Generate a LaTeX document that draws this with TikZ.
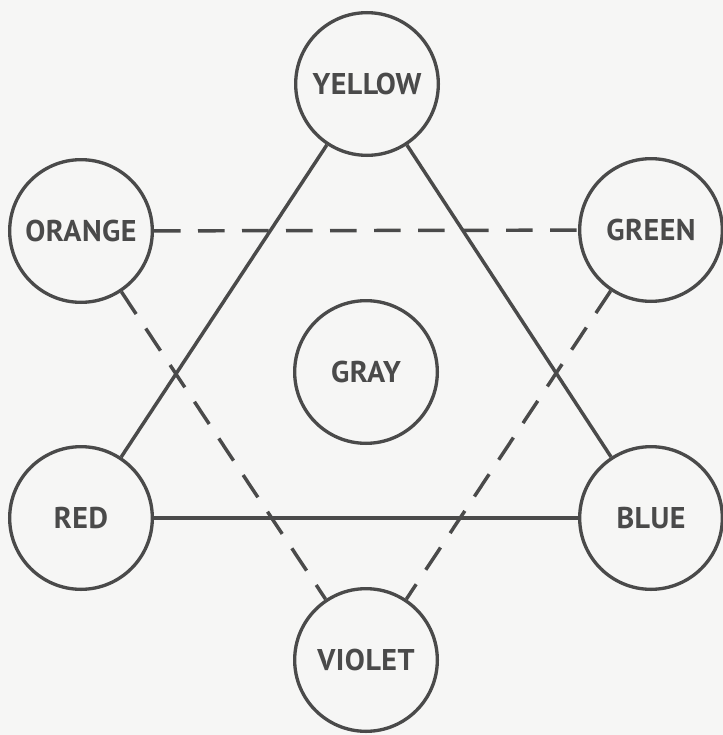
\documentclass[tikz,border=0pt]{standalone}
\usepackage{fontspec}
\newfontfamily\colorfont[LetterSpace=1.5]{PT Sans}
\usetikzlibrary{positioning}

\begin{document}
\begin{tikzpicture}[
    x=0.75pt, y=-0.75pt, % 1 Einheit = 1 Bildpunkt der Vorlage
    % --- Farben ---
    inkColor/.style={draw={rgb,255:red,74;green,74;blue,74}},
    paper/.style={fill={rgb,255:red,246;green,246;blue,245}},
    % --- Knoten ---
    hue/.style={shape=circle, inkColor, line width=2.5pt, minimum size=107pt, inner sep=0pt,
        text={rgb,255:red,74;green,74;blue,74}, font=\colorfont\bfseries\fontsize{22.5}{26}\selectfont},
    % --- Linien ---
    primary/.style={inkColor, line width=2.6pt},
    secondary/.style={inkColor, line width=2.6pt, dash pattern=on 20pt off 13pt}
]

    % Hintergrund / Rahmen
    \fill[paper] (0,0) rectangle (723,735);
    \useasboundingbox (0,0) rectangle (723,735);

    % ===========================
    % 1. KNOTEN
    % ===========================
    \node[hue] (yellow) at (367, 84)  {YELLOW};
    \node[hue] (orange) at (81, 231)  {ORANGE};
    \node[hue] (green)  at (651, 230) {GREEN};
    \node[hue] (gray)   at (366, 372) {GRAY};
    \node[hue] (red)    at (81, 518)  {RED};
    \node[hue] (blue)   at (651, 518) {BLUE};
    \node[hue] (violet) at (366, 660) {VIOLET};

    % ===========================
    % 2. VERBINDUNGEN
    % ===========================
    % Grundfarben (durchgezogen)
    \draw[primary] (yellow) -- (red);
    \draw[primary] (yellow) -- (blue);
    \draw[primary] (red) -- (blue);

    % Mischfarben (gestrichelt)
    \draw[secondary] (orange) -- (green);
    \draw[secondary] (orange) -- (violet);
    \draw[secondary] (green) -- (violet);

\end{tikzpicture}
\end{document}
